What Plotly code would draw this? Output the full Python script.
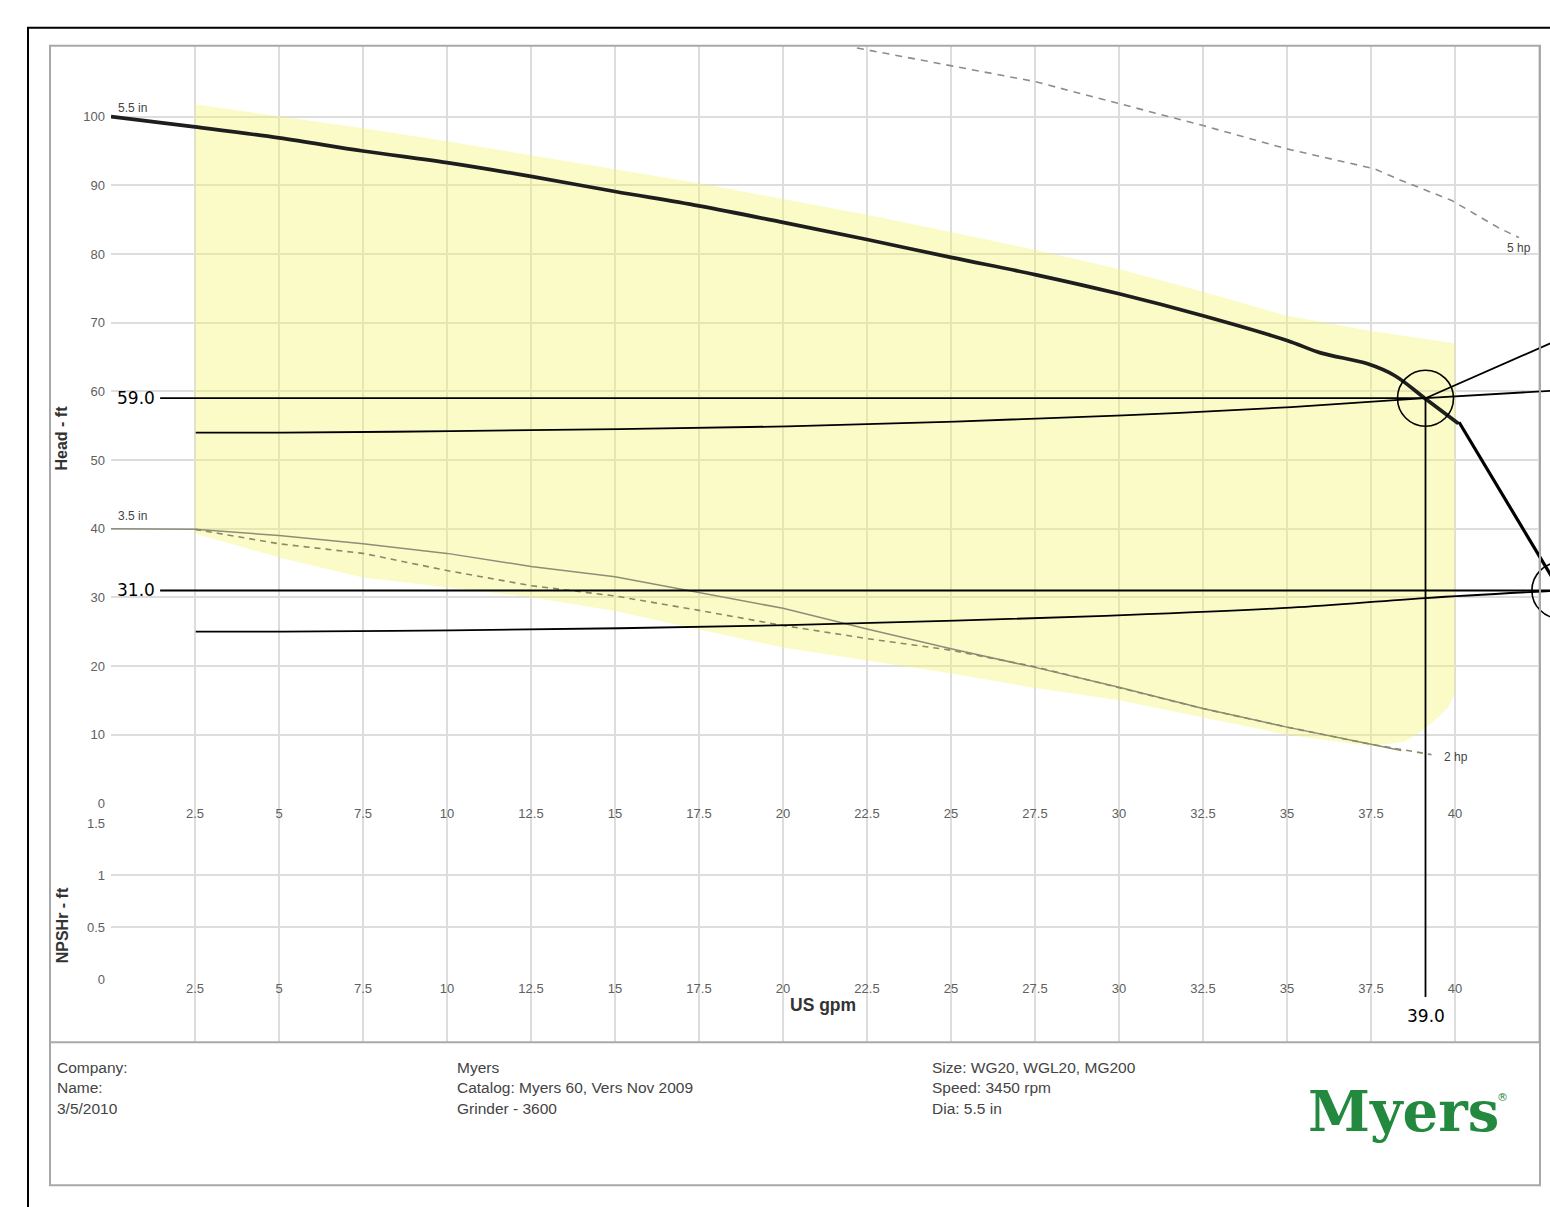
import plotly.graph_objects as go

# ---------------- data ----------------
# 5.5 in impeller pump curve (US gpm, ft)
pump_q = [0, 2.5, 5, 7.5, 10, 12.5, 15, 17.5, 20, 22.5, 25, 27.5, 30, 32.5, 35, 36.0, 37.4, 38.2, 39.1, 40.1]
pump_h = [100, 98.5, 96.9, 95.0, 93.3, 91.3, 89.1, 87.0, 84.6, 82.1, 79.5, 77.0, 74.2, 71.0, 67.4, 65.6, 64.0, 62.3, 59.0, 55.3]

# 3.5 in impeller curve
small_q = [0, 2.5, 5, 7.5, 10, 12.5, 15, 17.5, 20, 22.5, 25, 27.5, 30, 32.5, 35, 37.5, 38.4]
small_h = [40.0, 39.9, 39.0, 37.8, 36.4, 34.5, 33.0, 30.7, 28.4, 25.4, 22.5, 19.8, 16.9, 13.8, 11.1, 8.6, 7.7]

# 2 hp power limit (dashed)
hp2_q = [2.5, 5, 7.5, 10, 12.5, 15, 17.5, 20, 22.5, 25, 27.5, 30, 32.5, 35, 37.5, 39.3]
hp2_h = [39.9, 37.8, 36.4, 33.9, 31.7, 30.2, 28.1, 25.9, 24.0, 22.3, 19.9, 16.9, 13.8, 11.1, 8.6, 7.1]

# 5 hp power limit (dashed)
hp5_q = [22.2, 25, 27.5, 30, 32.5, 35, 37.6, 38.4, 39.9, 41.3, 41.9]
hp5_h = [110.0, 107.4, 105.1, 101.9, 98.7, 95.3, 92.4, 90.7, 87.8, 83.8, 82.4]

# recommended operating region (yellow)
region_q = [2.5, 5, 7.5, 10, 12.5, 15, 17.5, 20, 22.5, 25, 27.5, 30, 32.5, 35, 37.5, 40,
            40, 39.8, 39.5, 39.0, 38.5, 37.5, 35, 32.5, 30, 27.5, 25, 22.5, 20, 17.5, 15, 12.5, 10, 7.5, 5, 2.5]
region_h = [101.8, 100.1, 98.3, 96.4, 94.4, 92.4, 90.3, 88.0, 85.7, 83.2, 80.6, 77.8, 74.5, 71.0, 68.8, 67.0,
            16.0, 14.0, 12.5, 10.5, 9.0, 8.3, 10.0, 12.5, 15.0, 16.8, 18.9, 20.8, 22.7, 25.3, 28.0, 30.0, 31.4, 32.9, 35.8, 39.3]

# overlay: operating points and system curves
op_q = [39.0, 43.0]
op_h = [59.0, 31.0]
op_q_labels = ["39.0", "43.0"]
op_h_labels = ["59.0", "31.0"]
steep_q = [40.0, 43.0]
steep_h = [55.5, 31.0]
sys1_q = [2.4, 5, 10, 15, 20, 25, 30, 35, 39.0, 42.8]
sys1_h = [54.0, 54.0, 54.2, 54.5, 54.9, 55.6, 56.5, 57.7, 59.0, 60.1]
sys2_q = [2.4, 5, 10, 15, 20, 25, 30, 35, 39.0, 43.0]
sys2_h = [25.0, 25.0, 25.2, 25.5, 25.95, 26.6, 27.4, 28.5, 29.9, 31.0]
leader_q = [39.0, 45.0]
leader_h = [59.0, 71.9]

x_ticks = [2.5, 5, 7.5, 10, 12.5, 15, 17.5, 20, 22.5, 25, 27.5, 30, 32.5, 35, 37.5, 40]
x_ticktext = ["2.5", "5", "7.5", "10", "12.5", "15", "17.5", "20", "22.5", "25", "27.5", "30", "32.5", "35", "37.5", "40"]
grid_ticks = [0, 2.5, 5, 7.5, 10, 12.5, 15, 17.5, 20, 22.5, 25, 27.5, 30, 32.5, 35, 37.5, 40, 42.5]
head_ticks = [0, 10, 20, 30, 40, 50, 60, 70, 80, 90, 100]
npsh_ticks = [0, 0.5, 1, 1.5]
npsh_ticktext = ["0", "0.5", "1", "1.5"]

footer_left = ["Company:", "Name:", "3/5/2010"]
footer_mid = ["Myers", "Catalog: Myers 60, Vers Nov 2009", "Grinder - 3600"]
footer_right = ["Size: WG20, WGL20, MG200", "Speed: 3450 rpm", "Dia: 5.5 in"]

# ---------------- layout geometry ----------------
W, H = 1550, 1207
# vertical calibration of the rendered page (observed: y_shown = OFF + S * y_page)
S, OFF = 0.988, 6.3

def PX(x):
    return x / W

def PY(y):
    return 1 - ((y - OFF) / S) / H

X_MAX = 42.53
HEAD_MAX = 110.33
xdom = [PX(111), PX(1540)]
GRID = "#dddddd"
TICKFONT = dict(family="Liberation Sans, Arial", size=13, color="#606060")

fig = go.Figure()

# grid subplot (vertical grid lines spanning head + npsh panels)
fig.add_trace(go.Scatter(x=[0], y=[0], mode="markers", marker=dict(opacity=0),
                         xaxis="x", yaxis="y", hoverinfo="skip", showlegend=False))

# head subplot
fig.add_trace(go.Scatter(x=region_q, y=region_h, mode="lines", fill="toself",
                         fillcolor="rgba(245,245,110,0.38)", line=dict(width=0),
                         xaxis="x2", yaxis="y2", hoverinfo="skip", showlegend=False))
fig.add_trace(go.Scatter(x=hp5_q, y=hp5_h, mode="lines",
                         line=dict(color="#8c8c8c", width=1.6, dash="7px,6px"),
                         xaxis="x2", yaxis="y2", showlegend=False))
fig.add_trace(go.Scatter(x=small_q, y=small_h, mode="lines",
                         line=dict(color="#8d8d78", width=1.5),
                         xaxis="x2", yaxis="y2", showlegend=False))
fig.add_trace(go.Scatter(x=hp2_q, y=hp2_h, mode="lines",
                         line=dict(color="#8a8a68", width=1.6, dash="6px,5px"),
                         xaxis="x2", yaxis="y2", showlegend=False))
fig.add_trace(go.Scatter(x=pump_q, y=pump_h, mode="lines", line_shape="spline",
                         line=dict(color="#1e1e1e", width=3.7),
                         xaxis="x2", yaxis="y2", showlegend=False))

# npsh subplot (empty)
fig.add_trace(go.Scatter(x=[0], y=[0], mode="markers", marker=dict(opacity=0),
                         xaxis="x3", yaxis="y3", hoverinfo="skip", showlegend=False))

# overlay (annotations drawn over the whole page)
OV = dict(xaxis="x4", yaxis="y4", showlegend=False, hoverinfo="skip")
BLACK = dict(color="black", width=1.8)
fig.add_trace(go.Scatter(x=steep_q, y=steep_h, mode="lines", line=dict(color="black", width=3.2), **OV))
fig.add_trace(go.Scatter(x=sys1_q, y=sys1_h, mode="lines", line_shape="spline", line=BLACK, **OV))
fig.add_trace(go.Scatter(x=sys2_q, y=sys2_h, mode="lines", line_shape="spline", line=BLACK, **OV))
fig.add_trace(go.Scatter(x=leader_q, y=leader_h, mode="lines", line=BLACK, **OV))
hline_start = 1.34
vline_end = [-28.2, -25.0]
for q, h, ve in zip(op_q, op_h, vline_end):
    fig.add_trace(go.Scatter(x=[hline_start, q], y=[h, h], mode="lines", line=BLACK, **OV))
    fig.add_trace(go.Scatter(x=[q, q], y=[h, ve], mode="lines", line=BLACK, **OV))
fig.add_trace(go.Scatter(x=op_q, y=op_h, mode="markers",
                         marker=dict(symbol="circle-open", size=56, color="black", line=dict(width=1.6)), **OV))

annotations = []
LBL = dict(family="DejaVu Sans", size=17, color="black")
for lab, h in zip(op_h_labels, op_h):
    annotations.append(dict(x=1.25, y=h, xref="x4", yref="y4", text=lab, showarrow=False,
                            xanchor="right", yanchor="middle", font=LBL))
for lab, q, yy in zip(op_q_labels, op_q, [-31.0, -26.6]):
    annotations.append(dict(x=q, y=yy, xref="x4", yref="y4", text=lab, showarrow=False,
                            xanchor="center", yanchor="middle", font=LBL))

SMALL = dict(family="Liberation Sans, Arial", size=12, color="#444444")
annotations += [
    dict(x=0.15, y=101.3, xref="x2", yref="y2", text="5.5 in", showarrow=False, xanchor="left", yanchor="middle", font=SMALL),
    dict(x=0.15, y=41.9, xref="x2", yref="y2", text="3.5 in", showarrow=False, xanchor="left", yanchor="middle", font=SMALL),
    dict(x=41.5, y=80.8, xref="x2", yref="y2", text="5 hp", showarrow=False, xanchor="left", yanchor="middle", font=SMALL),
    dict(x=39.6, y=6.7, xref="x2", yref="y2", text="2 hp", showarrow=False, xanchor="left", yanchor="middle", font=SMALL),
]

annotations += [
    dict(x=PX(62), y=PY(438), xref="paper", yref="paper", text="<b>Head - ft</b>", textangle=-90,
         showarrow=False, xanchor="center", yanchor="middle",
         font=dict(family="Liberation Sans, Arial", size=16, color="#333333")),
    dict(x=PX(62), y=PY(925), xref="paper", yref="paper", text="<b>NPSHr - ft</b>", textangle=-90,
         showarrow=False, xanchor="center", yanchor="middle",
         font=dict(family="Liberation Sans, Arial", size=16, color="#333333")),
    dict(x=PX(823), y=PY(1005), xref="paper", yref="paper", text="<b>US gpm</b>",
         showarrow=False, xanchor="center", yanchor="middle",
         font=dict(family="Liberation Sans, Arial", size=17.5, color="#333333")),
]

FOOT = dict(family="Liberation Sans, Arial", size=15.5, color="#444444")
for col_x, col in [(55, footer_left), (455, footer_mid), (930, footer_right)]:
    for i, t in enumerate(col):
        annotations.append(dict(x=PX(col_x), y=PY(1067 + 20.5 * i), xref="paper", yref="paper", text=t,
                                showarrow=False, xanchor="left", yanchor="middle", font=FOOT))
annotations.append(dict(x=PX(1403), y=PY(1111), xref="paper", yref="paper", text="<b>Myers</b>",
                        showarrow=False, xanchor="center", yanchor="middle",
                        font=dict(family="DejaVu Serif", size=56, color="#23893f")))
annotations.append(dict(x=PX(1502), y=PY(1097), xref="paper", yref="paper", text="®",
                        showarrow=False, xanchor="center", yanchor="middle",
                        font=dict(family="DejaVu Sans", size=11, color="#23893f")))

shapes = [
    dict(type="rect", xref="paper", yref="paper", x0=PX(28), x1=1.05, y0=-0.05, y1=PY(27),
         line=dict(color="black", width=2), layer="above"),
    dict(type="rect", xref="paper", yref="paper", x0=PX(50), x1=PX(1540), y0=PY(1185), y1=PY(45),
         line=dict(color="#a8a8a8", width=2), layer="above"),
    dict(type="line", xref="paper", yref="paper", x0=PX(50), x1=PX(1540), y0=PY(1042), y1=PY(1042),
         line=dict(color="#a8a8a8", width=2), layer="above"),
]

fig.update_layout(
    width=W, height=H, margin=dict(l=0, r=0, t=0, b=0),
    paper_bgcolor="white", plot_bgcolor="rgba(0,0,0,0)", showlegend=False,
    xaxis=dict(domain=xdom, range=[0, X_MAX], tickvals=grid_ticks, showticklabels=False,
               showgrid=True, gridcolor=GRID, gridwidth=1.5, zeroline=False, showline=False, anchor="y"),
    yaxis=dict(domain=[PY(1042), PY(45)], range=[0, 1], showgrid=False, showticklabels=False,
               zeroline=False, showline=False, anchor="x"),
    xaxis2=dict(domain=xdom, range=[0, X_MAX], tickvals=x_ticks, ticktext=x_ticktext, showgrid=False,
                zeroline=False, showline=False, anchor="y2", tickfont=TICKFONT, ticks="", ticklabelstandoff=1),
    yaxis2=dict(domain=[PY(803), PY(45)], range=[0, HEAD_MAX], tickvals=head_ticks, showgrid=True,
                gridcolor=GRID, gridwidth=1.5, zeroline=False, showline=False, anchor="x2",
                tickfont=TICKFONT, ticks="", ticklabelstandoff=5),
    xaxis3=dict(domain=xdom, range=[0, X_MAX], tickvals=x_ticks, ticktext=x_ticktext, showgrid=False,
                zeroline=False, showline=False, anchor="y3", tickfont=TICKFONT, ticks="", ticklabelstandoff=0),
    yaxis3=dict(domain=[PY(979), PY(823)], range=[0, 1.5], tickvals=npsh_ticks, ticktext=npsh_ticktext,
                showgrid=True, gridcolor=GRID, gridwidth=1.5, zeroline=False, showline=False, anchor="x3",
                tickfont=TICKFONT, ticks="", ticklabelstandoff=5),
    xaxis4=dict(domain=[0, 1], range=[-115.1 / 33.6, (W - 115.1) / 33.6], visible=False, anchor="y4"),
    yaxis4=dict(domain=[0, 1], range=[(803 - (OFF + S * H)) / 6.87, (803 - OFF) / 6.87],
                visible=False, anchor="x4"),
    annotations=annotations,
    shapes=shapes,
)

PAGE_FIX = (
    "var gd=document.getElementById('{plot_id}');"
    "gd.style.position='fixed';gd.style.left='0px';gd.style.top='0px';"
    "document.documentElement.style.margin='0';document.documentElement.style.padding='0';"
    "document.body.style.margin='0';document.body.style.padding='0';"
    "document.documentElement.style.height='1207px';document.body.style.height='1207px';"
    "document.documentElement.style.overflow='hidden';document.body.style.overflow='hidden';"
)

fig.write_html("out.html", config={"displayModeBar": False}, post_script=PAGE_FIX)
